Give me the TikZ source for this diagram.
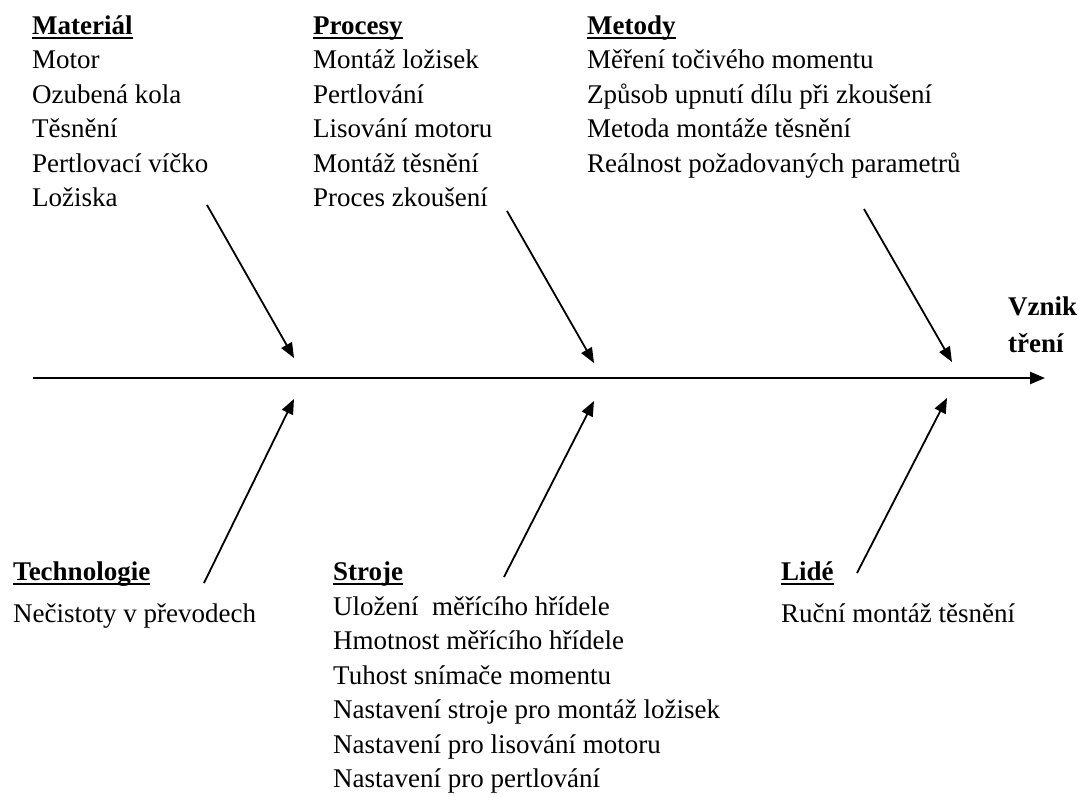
\documentclass[tikz,border=0pt]{standalone}
\usepackage{fontspec}
\setmainfont{Liberation Serif}
\usetikzlibrary{arrows.meta}
\newcommand{\headline}[1]{\setbox0\hbox{\bfseries #1}\rlap{\rule[-4.5pt]{\wd0}{1.8pt}}\box0}
\tikzset{
    heading/.style = {anchor=base west, inner sep=0pt, font=\fontsize{27}{34.5}\selectfont},
    item/.style = {anchor=base west, inner sep=0pt, font=\fontsize{27}{34.5}\selectfont},
    effect/.style = {anchor=base west, inner sep=0pt, font=\fontsize{27}{34.5}\selectfont\bfseries},
    spine/.style = {line width=2.4pt, -{Triangle[length=15pt,width=12pt]}},
    bone/.style = {line width=1.8pt, -{Triangle[length=15pt,width=12pt]}}
}

\begin{document}
\begin{tikzpicture}[x=1pt, y=-1pt]
	\useasboundingbox (0,0) rectangle (1088,796);
	% headings
	\node (mat) [heading] at (32,34) {\headline{Materiál}};
	\node (pro) [heading] at (313,34) {\headline{Procesy}};
	\node (met) [heading] at (587,34) {\headline{Metody}};
	\node (tec) [heading] at (13,580) {\headline{Technologie}};
	\node (str) [heading] at (333,580) {\headline{Stroje}};
	\node (lid) [heading] at (781,580) {\headline{Lidé}};
	% items
	\foreach \t [count=\i] in {Motor, Ozubená kola, Těsnění, Pertlovací víčko, Ložiska}
		\node (mat-\i) [item] at (32,34+34.5*\i) {\t};
	\foreach \t [count=\i] in {Montáž ložisek, Pertlování, Lisování motoru, Montáž těsnění, Proces zkoušení}
		\node (pro-\i) [item] at (313,34+34.5*\i) {\t};
	\foreach \t [count=\i] in {Měření točivého momentu, Způsob upnutí dílu při zkoušení, Metoda montáže těsnění, Reálnost požadovaných parametrů}
		\node (met-\i) [item] at (587,34+34.5*\i) {\t};
	\node (tec-1) [item] at (13,622) {Nečistoty v převodech};
	\foreach \t [count=\i] in {Uložení\ \ měřícího hřídele, Hmotnost měřícího hřídele, Tuhost snímače momentu, Nastavení stroje pro montáž ložisek, Nastavení pro lisování motoru, Nastavení pro pertlování}
		\node (str-\i) [item] at (333,580.5+34.5*\i) {\t};
	\node (lid-1) [item] at (781,622) {Ruční montáž těsnění};
	% effect
	\node (eff-1) [effect] at (1008,315) {Vznik};
	\node (eff-2) [effect] at (1008,352) {tření};
	% spine
	\coordinate (tail) at (33,378);
	\coordinate (head) at (1045,378);
	\draw [spine] (tail) -- (head);
	% bones
	\coordinate (mat-s) at (207,205);
	\coordinate (mat-t) at (294,358);
	\coordinate (pro-s) at (507,211);
	\coordinate (pro-t) at (594,363);
	\coordinate (met-s) at (864,209);
	\coordinate (met-t) at (952,362);
	\coordinate (tec-s) at (204,583);
	\coordinate (tec-t) at (294,399);
	\coordinate (str-s) at (504,577);
	\coordinate (str-t) at (594,401);
	\coordinate (lid-s) at (857,573);
	\coordinate (lid-t) at (947,398);
	\foreach \b in {mat, pro, met, tec, str, lid}
		\draw [bone] (\b-s) -- (\b-t);
\end{tikzpicture}
\end{document}
